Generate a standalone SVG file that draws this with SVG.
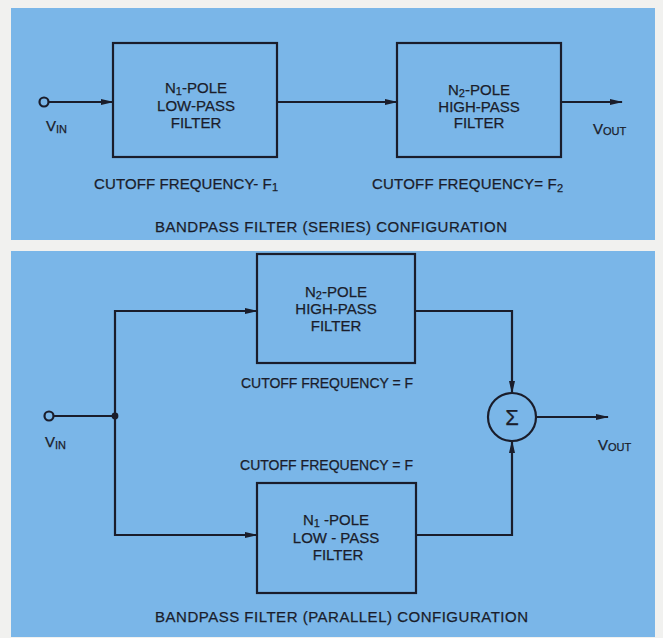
<svg xmlns="http://www.w3.org/2000/svg" width="663" height="638" viewBox="0 0 663 638">
<defs>
<style>
.panel{fill:#7ab6e8}
.box{fill:none;stroke:#1a1d2b;stroke-width:2.2}
.wire{fill:none;stroke:#1a1d2b;stroke-width:2.2}
.t{font-family:"Liberation Sans",Arial,sans-serif;font-size:15px;fill:#1a1d2b;stroke:#1a1d2b;stroke-width:0.25}
.c{text-anchor:middle}
.sub{font-size:11px}
.s14{font-size:14px}
</style>
<marker id="arr" markerWidth="13" markerHeight="8" refX="12" refY="4" orient="auto" markerUnits="userSpaceOnUse">
<path d="M0,1 L13,4 L0,7 Z" fill="#1a1d2b"/>
</marker>
</defs>
<rect width="663" height="638" fill="#f1f1ef"/>
<rect class="panel" x="11" y="8" width="644" height="232"/>
<rect class="panel" x="11" y="251" width="644" height="386"/>

<!-- Series configuration -->
<g id="lp1">
<rect class="box" x="113" y="43" width="164" height="114"/>
<text class="t c" x="196" y="93">N<tspan class="sub" dy="2">1</tspan><tspan dy="-2">-POLE</tspan></text>
<text class="t c" x="196" y="111">LOW-PASS</text>
<text class="t c" x="196" y="128">FILTER</text>
</g>
<g id="hp1">
<rect class="box" x="397" y="43" width="164" height="114"/>
<text class="t c" x="479" y="95">N<tspan class="sub" dy="2">2</tspan><tspan dy="-2">-POLE</tspan></text>
<text class="t c" x="479" y="112">HIGH-PASS</text>
<text class="t c" x="479" y="128">FILTER</text>
</g>
<g id="vin1">
<circle cx="44" cy="102" r="4.5" fill="none" stroke="#1a1d2b" stroke-width="2.2"/>
<text class="t" x="46" y="131">V<tspan class="sub" dy="2">IN</tspan></text>
</g>
<g id="vout1">
<text class="t" x="593" y="134">V<tspan class="sub" dy="1">OUT</tspan></text>
</g>
<g id="labels1">
<text class="t" x="94" y="189" textLength="184">CUTOFF FREQUENCY- F<tspan class="sub" dy="2">1</tspan></text>
<text class="t" x="372" y="189" textLength="191">CUTOFF FREQUENCY= F<tspan class="sub" dy="3">2</tspan></text>
<text class="t" x="155" y="232" textLength="352">BANDPASS FILTER (SERIES) CONFIGURATION</text>
</g>

<!-- Parallel configuration -->
<g id="hp2">
<rect class="box" x="257" y="254" width="158" height="109"/>
<text class="t c" x="336" y="297">N<tspan class="sub" dy="2">2</tspan><tspan dy="-2">-POLE</tspan></text>
<text class="t c" x="336" y="314">HIGH-PASS</text>
<text class="t c" x="336" y="331">FILTER</text>
</g>
<g id="lp2">
<rect class="box" x="257" y="483" width="159" height="110"/>
<text class="t c" x="336" y="525">N<tspan class="sub" dy="2">1</tspan><tspan dy="-2"> -POLE</tspan></text>
<text class="t c" x="336" y="543">LOW - PASS</text>
<text class="t c" x="338" y="560">FILTER</text>
</g>
<g id="sum">
<circle cx="512" cy="417" r="24" fill="none" stroke="#1a1d2b" stroke-width="2.2"/>
<text class="t c" x="512" y="425" style="font-size:22px">Σ</text>
</g>
<g id="vin2">
<circle cx="49" cy="416" r="4.5" fill="none" stroke="#1a1d2b" stroke-width="2.2"/>
<text class="t" x="45" y="447">V<tspan class="sub" dy="2">IN</tspan></text>
</g>
<g id="vout2">
<text class="t" x="598" y="450">V<tspan class="sub" dy="1">OUT</tspan></text>
</g>
<g id="labels2">
<text class="t s14" x="241" y="388" textLength="172">CUTOFF FREQUENCY = F</text>
<text class="t s14" x="240" y="470" textLength="173">CUTOFF FREQUENCY = F</text>
<text class="t" x="155" y="622" textLength="373">BANDPASS FILTER (PARALLEL) CONFIGURATION</text>
</g>

<g id="connectors">
<line class="wire" x1="48.5" y1="102" x2="113" y2="102" marker-end="url(#arr)"/>
<line class="wire" x1="277" y1="102" x2="397" y2="102" marker-end="url(#arr)"/>
<line class="wire" x1="561" y1="102" x2="622" y2="102" marker-end="url(#arr)"/>

<line class="wire" x1="53.5" y1="416" x2="115" y2="416"/>
<circle cx="115" cy="416" r="3.4" fill="#1a1d2b"/>
<polyline class="wire" points="115,416 115,311 257,311" marker-end="url(#arr)"/>
<polyline class="wire" points="115,416 115,535 257,535" marker-end="url(#arr)"/>
<polyline class="wire" points="415,311 512,311 512,393" marker-end="url(#arr)"/>
<polyline class="wire" points="416,535 512,535 512,441" marker-end="url(#arr)"/>
<line class="wire" x1="536" y1="417" x2="608" y2="417" marker-end="url(#arr)"/>
</g>
</svg>
